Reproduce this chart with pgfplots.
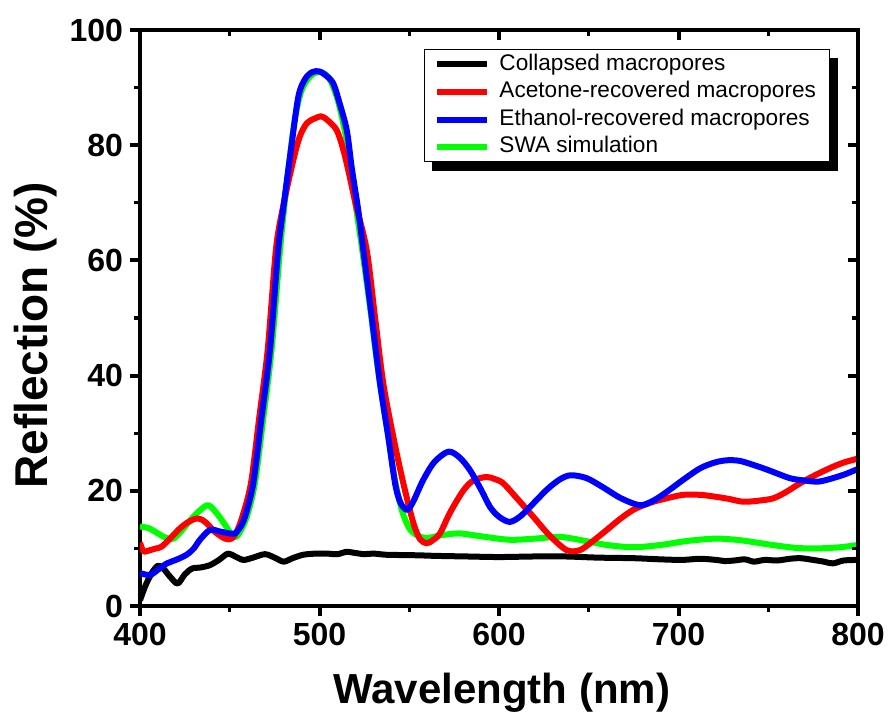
\documentclass[border=0pt]{standalone}
\usepackage{fontspec}
\setmainfont{Liberation Sans}
\usepackage{pgfplots}
\pgfplotsset{compat=1.18}
\usetikzlibrary{backgrounds}

\definecolor{cblk}{RGB}{0,0,0}
\definecolor{cred}{RGB}{255,0,0}
\definecolor{cblu}{RGB}{0,0,255}
\definecolor{cgrn}{RGB}{0,255,0}

\pgfplotsset{
  common/.style={
    scale only axis, width=359pt, height=288pt,
    xmin=400, xmax=800, ymin=0, ymax=100,
    xtick={400,500,...,800}, minor xtick={450,550,650,750},
    ytick={0,20,...,100}, minor ytick={10,30,50,70,90},
    axis line style={line width=2pt, line cap=rect},
    major tick length=5pt, minor tick length=3pt,
    every major tick/.style={line width=2pt, black},
    every minor tick/.style={line width=1.6pt, black},
    /pgf/number format/assume math mode=true,
    ticklabel style={font=\fontsize{16}{16}\selectfont\bfseries},
  }
}

\begin{document}
\begin{tikzpicture}
\path[use as bounding box] (-70pt,-56pt) rectangle (374pt,303pt);
\begin{axis}[common,
  axis x line*=bottom, axis y line*=left, tick align=outside,
  xlabel={Wavelength (nm)}, ylabel={Reflection (\%)},
  xlabel style={font=\fontsize{21}{22}\selectfont\bfseries, at={(axis description cs:0.504,-0.15)}, anchor=center},
  ylabel style={font=\fontsize{23}{24}\selectfont\bfseries, at={(axis description cs:-0.146,0.47)}, anchor=center},
  legend cell align=left,
  legend image code/.code={\draw[#1] (0pt,0pt) -- (25pt,0pt);},
  legend style={at={(rel axis cs:0.3955,0.967)}, anchor=north west, name=leg,
    draw=black, line width=0.5pt, fill=white,
    font=\fontsize{11.3}{12}\selectfont,
    inner xsep=5pt, inner ysep=0.5pt, row sep=0pt, column sep=3pt,
    nodes={inner sep=1.5pt, text height=8.3pt, text depth=2.5pt}},
  every axis plot/.append style={line width=3pt, smooth, line join=round},
]
% SWA simulation (drawn first, beneath the others)
\addplot[cgrn, forget plot] coordinates {
(400,13.8)(405,13.5)(410,12.6)(414,11.9)(418.6,11.7)(423,13.0)(428,14.9)(433,16.5)(438,17.5)
(443,16.0)(448,13.8)(452,12.0)(455,12.5)(459.5,15.5)(464,21.3)(468.8,32.9)(473.3,44.4)
(478,61.8)(482,74)(486,84)(490,89.5)(495,92)(500,92.7)(505,91.8)(510,88)(515,81)(519,72)
(523.5,62.5)(528.5,51)(533,40)(538,30)(542,22)(546,16.5)(550,13.5)(554.2,12.3)(559.7,11.8)
(568,12.3)(578,12.6)(590,12.1)(606,11.5)(620,11.7)(634,12.0)(648,11.3)(660,10.6)(675,10.2)
(690,10.6)(705,11.3)(721,11.7)(735,11.4)(750,10.7)(765,10.1)(777,10.0)(790,10.2)(800,10.6)};
% Collapsed macropores
\addplot[cblk, forget plot] coordinates {
(400,1.0)(403,3.5)(406.5,5.7)(410,7.0)(413,6.5)(417,5.0)(421,3.9)(425,5.5)(429,6.5)(434,6.7)
(439,7.1)(444,8.0)(449,9.1)(453,8.6)(457.6,8.0)(463,8.4)(469.6,9.0)(475,8.4)(480,7.7)(485,8.3)
(491,8.9)(498,9.1)(504,9.1)(510,9.0)(515,9.4)(520,9.2)(525,9.0)(530,9.1)(537,8.9)(545,8.85)
(555,8.8)(565,8.7)(582,8.6)(600,8.5)(620,8.6)(637,8.6)(655,8.4)(675,8.3)(690,8.1)(702,8.0)
(712,8.2)(721,8.0)(726,7.8)(731,7.9)(737,8.1)(742,7.7)(748,8.0)(755,7.9)(762,8.2)(768,8.3)
(775,8.0)(781,7.7)(786,7.4)(792,7.9)(800,8.0)};
% Acetone-recovered macropores
\addplot[cred, forget plot] coordinates {
(400,11.0)(402,9.5)(405.6,9.7)(409,10.0)(412,10.3)(417,11.8)(422.3,13.5)(427,14.6)(431.6,15.2)
(435,14.9)(438,14.1)(442,12.8)(447.4,11.7)(451,11.7)(454,13.0)(457,15.5)(461.8,21.3)(466.5,32.9)
(471.1,44.4)(475.7,61.8)(479.5,69)(485.4,77.4)(489,81.5)(492.9,83.8)(497,84.6)(501.2,85.0)
(505,84.2)(509.6,82.6)(513,79.5)(516,75.7)(520,70)(526.3,61.8)(530.9,50.2)(535.5,38.7)
(541.1,29.4)(546.7,21.3)(552.3,14.4)(556,11.6)(559.7,10.9)(563,11.4)(567.1,12.6)(572.7,16.2)
(580,20)(585.7,21.8)(593.1,22.4)(598,22.0)(602.4,21.3)(610,18.7)(619.1,15.5)(628,12.3)
(637.7,9.7)(645,9.7)(652,11.2)(660,13.2)(667,15.0)(674.8,16.7)(684,17.9)(693.4,18.7)
(702.6,19.3)(712,19.3)(720,19.0)(728,18.6)(736.1,18.1)(745,18.3)(752.8,18.7)(760,19.8)
(767.7,21.3)(776,22.7)(786.2,24.2)(793,25.0)(800,25.6)};
% Ethanol-recovered macropores
\addplot[cblu, forget plot] coordinates {
(400,5.7)(405.6,5.4)(410,6.3)(415,7.4)(420,8.0)(426,8.9)(430,10.0)(433.4,11.5)(439,13.2)
(445,12.9)(450,12.6)(452.9,12.6)(455.5,13.5)(458.5,15.5)(463.1,21.3)(467.8,32.9)(472.4,44.4)
(477,61.8)(480,69.5)(484,79)(488.2,88.4)(492,91.5)(496,92.7)(500,92.8)(504,92)(507.7,90.7)
(511,87.5)(515.2,82.6)(518,76)(521.6,68.7)(524.4,61.8)(529.1,50.2)(533.7,38.7)(538.3,29.4)
(542.1,21.3)(545,18)(548.6,16.7)(552,18)(557.8,21.9)(564,25)(571.8,26.8)
(578,25.8)(583.8,23.6)(590,20.2)(595,17.2)(600,15.5)(606,14.6)(612,15.6)(619.1,17.8)
(627,20.3)(634,22.0)(640,22.7)(648.8,22.2)(658,20.6)(668,18.7)(678.5,17.5)(686,18.3)
(693.4,19.8)(703,22.0)(712,23.9)(720,24.9)(727,25.3)(734,25.2)(741.7,24.5)(750,23.6)
(762,22.2)(770,21.8)(778,21.6)(786,22.2)(793,22.9)(800,23.8)};
\addlegendimage{cblk, line width=3pt}
\addlegendentry{Collapsed macropores}
\addlegendimage{cred, line width=3pt}
\addlegendentry{Acetone-recovered macropores}
\addlegendimage{cblu, line width=3pt}
\addlegendentry{Ethanol-recovered macropores}
\addlegendimage{cgrn, line width=3pt}
\addlegendentry{SWA simulation}
\end{axis}
\begin{scope}[on background layer]
\fill[black] ([xshift=4pt,yshift=-4.5pt]leg.south west) rectangle ([xshift=4pt,yshift=-4.5pt]leg.north east);
\end{scope}
\begin{axis}[common,
  axis x line*=top, axis y line*=right, tick align=inside,
  xticklabels={}, yticklabels={},
]
\end{axis}
\end{tikzpicture}
\end{document}
